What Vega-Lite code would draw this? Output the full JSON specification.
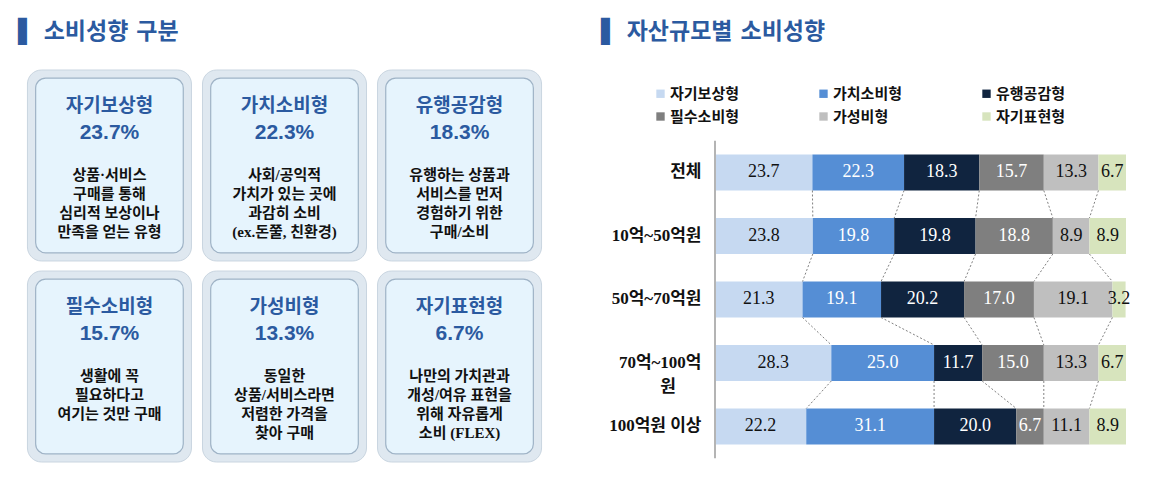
{
  "$schema": "https://vega.github.io/schema/vega-lite/v6.json",
  "background": "white",
  "padding": {"left": 18, "top": 20, "right": 0, "bottom": 0},
  "columns": 2,
  "align": "none",
  "spacing": 50,
  "resolve": {"legend": {"color": "independent"}},
  "config": {"view": {"stroke": null}, "font": "Noto Sans CJK KR"},
  "datasets": {
    "cards": [
      {"name": "자기보상형", "pct": 23.7, "desc": ["상품·서비스", "구매를 통해", "심리적 보상이나", "만족을 얻는 유형"]},
      {"name": "가치소비형", "pct": 22.3, "desc": ["사회/공익적", "가치가 있는 곳에", "과감히 소비", "(ex.돈쭐, 친환경)"]},
      {"name": "유행공감형", "pct": 18.3, "desc": ["유행하는 상품과", "서비스를 먼저", "경험하기 위한", "구매/소비"]},
      {"name": "필수소비형", "pct": 15.7, "desc": ["생활에 꼭", "필요하다고", "여기는 것만 구매"]},
      {"name": "가성비형", "pct": 13.3, "desc": ["동일한", "상품/서비스라면", "저렴한 가격을", "찾아 구매"]},
      {"name": "자기표현형", "pct": 6.7, "desc": ["나만의 가치관과", "개성/여유 표현을", "위해 자유롭게", "소비 (FLEX)"]}
    ],
    "assets": [
      {"group": "전체", "type": "자기보상형", "value": 23.7},
      {"group": "전체", "type": "가치소비형", "value": 22.3},
      {"group": "전체", "type": "유행공감형", "value": 18.3},
      {"group": "전체", "type": "필수소비형", "value": 15.7},
      {"group": "전체", "type": "가성비형", "value": 13.3},
      {"group": "전체", "type": "자기표현형", "value": 6.7},
      {"group": "10억~50억원", "type": "자기보상형", "value": 23.8},
      {"group": "10억~50억원", "type": "가치소비형", "value": 19.8},
      {"group": "10억~50억원", "type": "유행공감형", "value": 19.8},
      {"group": "10억~50억원", "type": "필수소비형", "value": 18.8},
      {"group": "10억~50억원", "type": "가성비형", "value": 8.9},
      {"group": "10억~50억원", "type": "자기표현형", "value": 8.9},
      {"group": "50억~70억원", "type": "자기보상형", "value": 21.3},
      {"group": "50억~70억원", "type": "가치소비형", "value": 19.1},
      {"group": "50억~70억원", "type": "유행공감형", "value": 20.2},
      {"group": "50억~70억원", "type": "필수소비형", "value": 17.0},
      {"group": "50억~70억원", "type": "가성비형", "value": 19.1},
      {"group": "50억~70억원", "type": "자기표현형", "value": 3.2},
      {"group": "70억~100억원", "type": "자기보상형", "value": 28.3},
      {"group": "70억~100억원", "type": "가치소비형", "value": 25.0},
      {"group": "70억~100억원", "type": "유행공감형", "value": 11.7},
      {"group": "70억~100억원", "type": "필수소비형", "value": 15.0},
      {"group": "70억~100억원", "type": "가성비형", "value": 13.3},
      {"group": "70억~100억원", "type": "자기표현형", "value": 6.7},
      {"group": "100억원 이상", "type": "자기보상형", "value": 22.2},
      {"group": "100억원 이상", "type": "가치소비형", "value": 31.1},
      {"group": "100억원 이상", "type": "유행공감형", "value": 20.0},
      {"group": "100억원 이상", "type": "필수소비형", "value": 6.7},
      {"group": "100억원 이상", "type": "가성비형", "value": 11.1},
      {"group": "100억원 이상", "type": "자기표현형", "value": 8.9}
    ]
  },
  "concat": [
    {
      "width": 533,
      "height": 392,
      "title": {"text": "▌ 소비성향 구분", "anchor": "start", "frame": "group", "font": "DejaVu Sans, Noto Sans CJK KR", "fontSize": 23, "fontWeight": "bold", "color": "#2b5aa0", "offset": 26},
      "data": {"name": "cards"},
      "transform": [
        {"window": [{"op": "row_number", "as": "idx"}]},
        {"calculate": "(datum.idx - 1) % 3", "as": "col"},
        {"calculate": "floor((datum.idx - 1) / 3)", "as": "row"},
        {"calculate": "format(datum.pct, '.1f') + '%'", "as": "pctLabel"}
      ],
      "encoding": {
        "x": {"field": "col", "type": "ordinal", "axis": null, "scale": {"paddingInner": 0.063, "paddingOuter": 0.054}},
        "y": {"field": "row", "type": "ordinal", "axis": null, "scale": {"paddingInner": 0.05, "paddingOuter": 0}}
      },
      "layer": [
        {"mark": {"type": "rect", "fill": "#dfe8f0", "stroke": "#c9d5e0", "strokeWidth": 1, "cornerRadius": 14}},
        {"mark": {"type": "rect", "fill": "#e6f4fd", "stroke": "#9fb3c6", "strokeWidth": 1.2, "cornerRadius": 10, "width": {"band": 0.9}, "height": {"band": 0.915}}},
        {
          "mark": {"type": "text", "fontSize": 19, "fontWeight": "bold", "color": "#2b5aa0", "baseline": "middle", "dy": 36},
          "encoding": {"y": {"field": "row", "type": "ordinal", "bandPosition": 0}, "text": {"field": "name"}}
        },
        {
          "mark": {"type": "text", "font": "Liberation Sans Narrow, Liberation Sans", "fontSize": 21, "fontWeight": "bold", "color": "#2b5aa0", "baseline": "middle", "dy": 63},
          "encoding": {"y": {"field": "row", "type": "ordinal", "bandPosition": 0}, "text": {"field": "pctLabel"}}
        },
        {
          "mark": {"type": "text", "font": "Liberation Serif, Noto Sans CJK KR", "fontSize": 15, "fontWeight": "bold", "color": "#111111", "baseline": "top", "lineHeight": 19, "dy": 98},
          "encoding": {"y": {"field": "row", "type": "ordinal", "bandPosition": 0}, "text": {"field": "desc"}}
        }
      ]
    },
    {
      "width": 411,
      "height": 386,
      "title": {"text": "▌ 자산규모별 소비성향", "anchor": "start", "frame": "group", "dx": -114, "font": "DejaVu Sans, Noto Sans CJK KR", "fontSize": 23, "fontWeight": "bold", "color": "#2b5aa0", "offset": 26},
      "data": {"name": "assets"},
      "transform": [
        {"window": [{"op": "row_number", "as": "ti"}], "groupby": ["group"]},
        {"window": [{"op": "row_number", "as": "gi"}], "groupby": ["type"]},
        {"stack": "value", "groupby": ["group"], "sort": [{"field": "ti", "order": "ascending"}], "as": ["x0", "x1"]},
        {"calculate": "(datum.x0 + datum.x1) / 2", "as": "xm"}
      ],
      "encoding": {
        "y": {
          "field": "group", "type": "nominal",
          "scale": {"domain": ["전체", "10억~50억원", "50억~70억원", "70억~100억원", "100억원 이상"], "paddingInner": 0.433, "paddingOuter": 0.756, "align": 0.88},
          "axis": {
            "title": null, "ticks": false, "domain": false,
            "labelFont": "Liberation Serif, Noto Sans CJK KR", "labelFontSize": 17, "labelFontWeight": "bold", "labelColor": "#111111",
            "labelPadding": 14, "labelLineHeight": 24,
            "labelExpr": "datum.value == '70억~100억원' ? ['70억~100억', '원\u00a0\u00a0\u00a0\u00a0\u00a0\u00a0\u200b'] : datum.value"
          }
        }
      },
      "layer": [
        {
          "mark": {"type": "bar"},
          "encoding": {
            "x": {"field": "x0", "type": "quantitative", "scale": {"domain": [0, 100], "nice": false}, "axis": null},
            "x2": {"field": "x1"},
            "color": {
              "field": "type", "type": "nominal",
              "scale": {"domain": ["자기보상형", "가치소비형", "유행공감형", "필수소비형", "가성비형", "자기표현형"], "range": ["#c6d9f1", "#558ed5", "#10243f", "#7f7f7f", "#bfbfbf", "#d7e4bd"]},
              "legend": {
                "title": null, "orient": "none", "legendX": -62, "legendY": 16, "direction": "horizontal", "columns": 3,
                "symbolType": "square", "symbolSize": 70, "symbolStrokeWidth": 0,
                "labelFont": "Noto Sans CJK KR", "labelFontSize": 15, "labelFontWeight": "bold", "labelColor": "#111111",
                "columnPadding": 76, "rowPadding": 7, "labelOffset": 2, "labelLimit": 200
              }
            }
          }
        },
        {
          "transform": [
            {"filter": "datum.gi == 1 && datum.ti == 1"},
            {"calculate": "'100억원 이상'", "as": "lastGroup"}
          ],
          "mark": {"type": "rule", "color": "#b4b4b4", "strokeWidth": 2},
          "encoding": {
            "x": {"field": "x0", "type": "quantitative"},
            "y": {"field": "group", "type": "nominal", "bandPosition": -0.382},
            "y2": {"field": "lastGroup", "bandPosition": 1.382}
          }
        },
        {
          "transform": [
            {"window": [{"op": "lead", "field": "x1", "as": "nx"}, {"op": "lead", "field": "group", "as": "ng"}], "groupby": ["type"], "sort": [{"field": "gi", "order": "ascending"}]},
            {"filter": "datum.ng != null && datum.ti < 6"}
          ],
          "mark": {"type": "rule", "color": "#808080", "strokeDash": [2, 2], "strokeWidth": 1},
          "encoding": {
            "x": {"field": "x1", "type": "quantitative"},
            "x2": {"field": "nx"},
            "y": {"field": "group", "type": "nominal", "bandPosition": 1},
            "y2": {"field": "ng", "bandPosition": 0}
          }
        },
        {
          "mark": {"type": "text", "font": "Liberation Serif", "fontSize": 18, "baseline": "middle"},
          "encoding": {
            "x": {"field": "xm", "type": "quantitative"},
            "text": {"field": "value", "type": "quantitative", "format": ".1f"},
            "color": {"condition": {"test": "datum.type == '가치소비형' || datum.type == '유행공감형' || datum.type == '필수소비형'", "value": "white"}, "value": "#111111"}
          }
        }
      ]
    }
  ]
}
